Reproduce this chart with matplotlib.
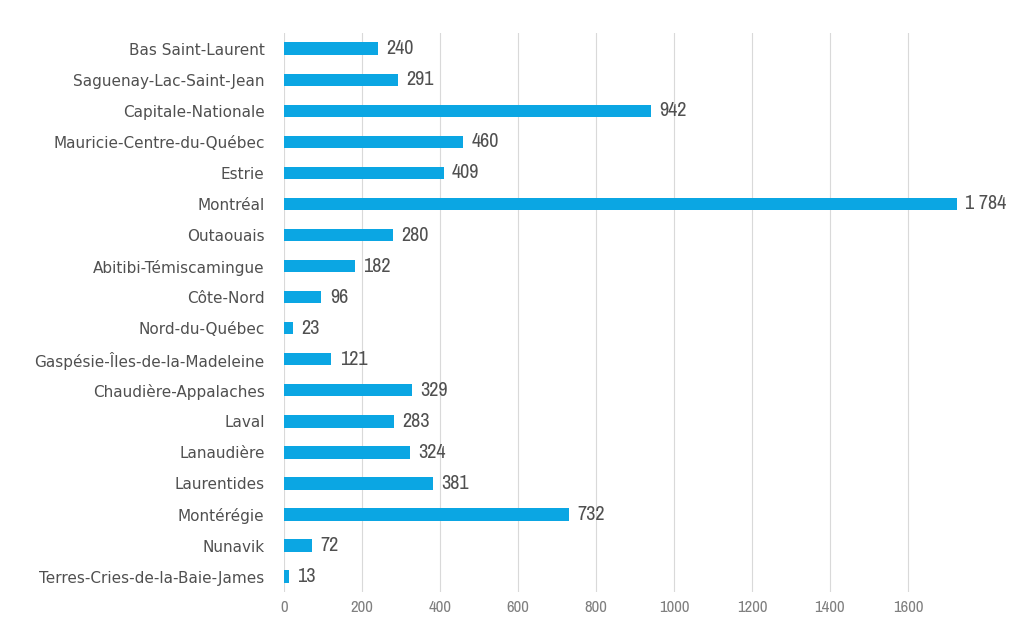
import matplotlib
matplotlib.use("Agg")
import matplotlib.pyplot as plt
from matplotlib import font_manager

# Regions, top to bottom as in the chart
regions = [
    "Bas Saint-Laurent",
    "Saguenay-Lac-Saint-Jean",
    "Capitale-Nationale",
    "Mauricie-Centre-du-Québec",
    "Estrie",
    "Montréal",
    "Outaouais",
    "Abitibi-Témiscamingue",
    "Côte-Nord",
    "Nord-du-Québec",
    "Gaspésie-Îles-de-la-Madeleine",
    "Chaudière-Appalaches",
    "Laval",
    "Lanaudière",
    "Laurentides",
    "Montérégie",
    "Nunavik",
    "Terres-Cries-de-la-Baie-James",
]
values = [240, 291, 942, 460, 409, 1784, 280, 182, 96, 23, 121, 329, 283, 324, 381, 732, 72, 13]
x_ticks = [0, 200, 400, 600, 800, 1000, 1200, 1400, 1600]

bar_color = "#0ba6e3"

# look for a condensed face for the value labels, like the original
names = sorted({f.name for f in font_manager.fontManager.ttflist})
narrow = None
for n in names:
    if "Narrow" in n or "Condensed" in n:
        narrow = n
        break
val_size = 14.5 if narrow else 12.5
if narrow is None:
    narrow = "Roboto"

fig = plt.figure(figsize=(10.09, 6.2), dpi=100)
ax = fig.add_axes([0.2815, 0.045, 0.667, 0.9015])

pos = list(range(len(regions)))
ax.barh(pos, values, height=0.4, color=bar_color, zorder=3)

xmax = 1726
for y, v in zip(pos, values):
    label = f"{v:,}".replace(",", " ")
    ax.annotate(label, xy=(min(v, xmax), y), xytext=(6, 0), textcoords="offset points",
                va="center", ha="left", fontsize=val_size, color="#505050",
                family=narrow, fontweight="light", annotation_clip=False)

ax.set_xlim(0, xmax)
ax.set_ylim(len(regions) - 0.5, -0.5)
ax.set_yticks(pos)
ax.set_yticklabels(regions, fontsize=11, color="#505050")
ax.set_xticks(x_ticks)
ax.set_xticklabels([str(t) for t in x_ticks], fontsize=12, color="#808080", family=narrow)
ax.tick_params(axis="both", length=0)
ax.tick_params(axis="x", pad=6)
ax.tick_params(axis="y", pad=14)

ax.grid(axis="x", color="#d9d9d9", linewidth=0.8, zorder=0)
for s in ax.spines.values():
    s.set_visible(False)

fig.savefig("out.png", dpi=100)
